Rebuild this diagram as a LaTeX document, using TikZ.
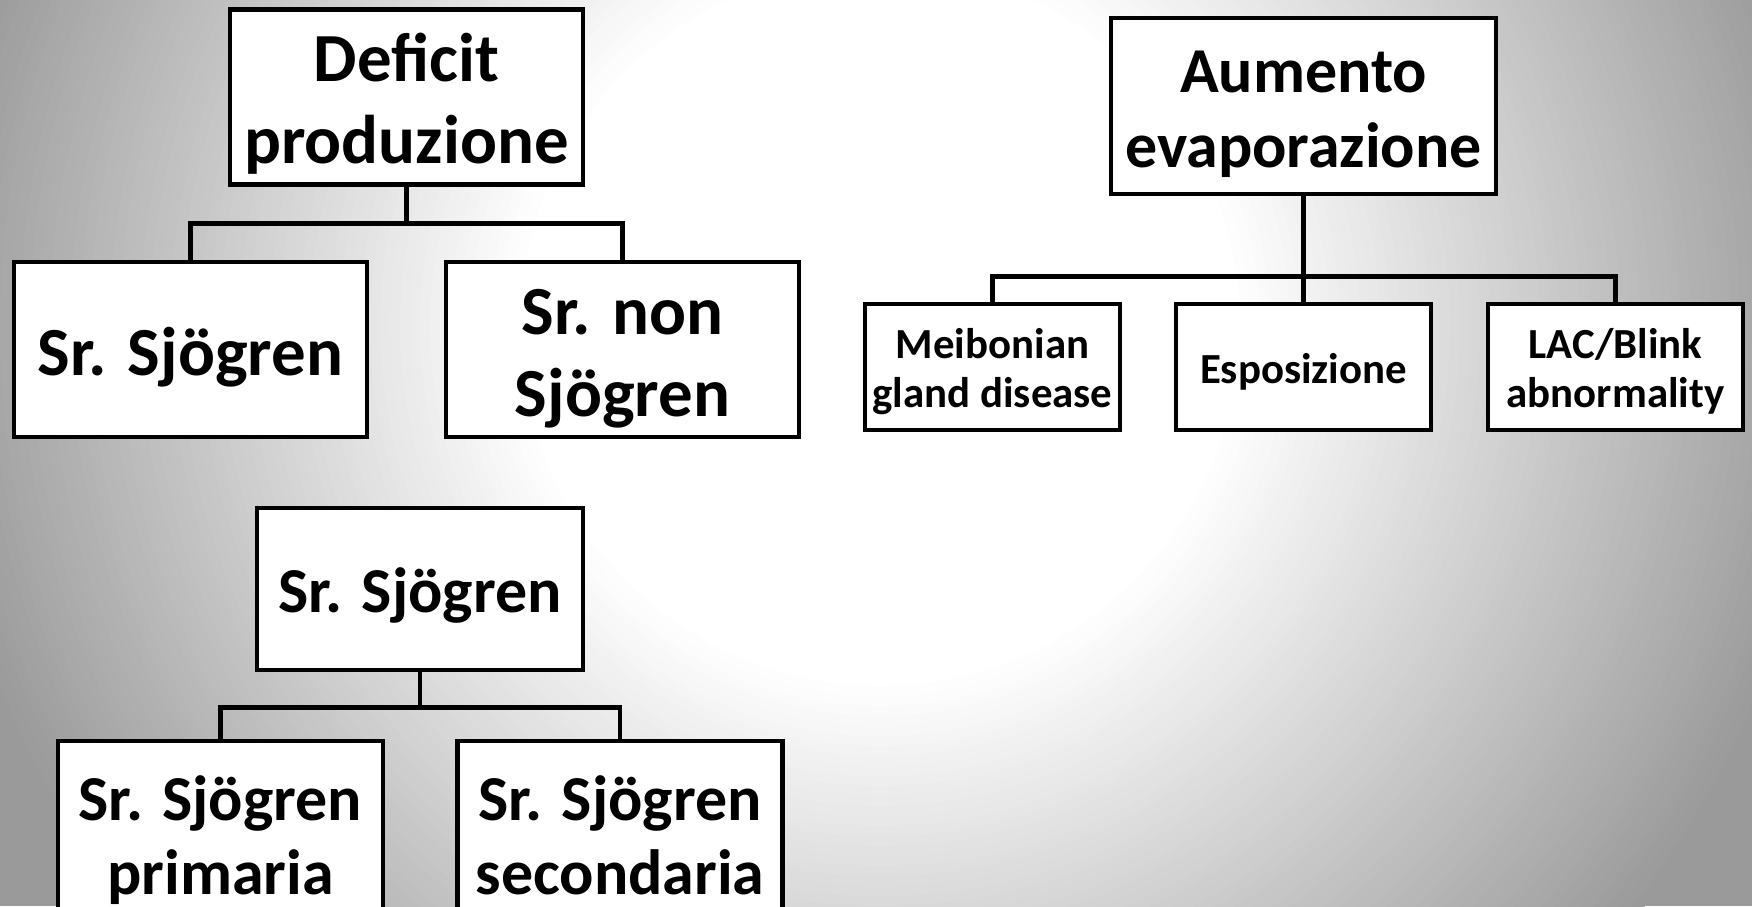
\documentclass[tikz,border=0pt]{standalone}
\usepackage{fontspec}
\setmainfont{Carlito}
\usepackage{tikz}
\usepackage{xcolor}
\usetikzlibrary{positioning,calc}
\definecolor{slidegray}{HTML}{9A9A9A}
\definecolor{ink}{HTML}{000000}
% fixed line top and bottom, so that every box text sits alike
\newcommand{\boxtop}{\rule{0pt}{1.0em}}
\newcommand{\boxbot}{\rule[-0.25em]{0pt}{0.25em}}
\tikzset{
  box/.style={draw=ink,fill=white,line width=1.3pt,align=center,inner sep=0pt},
  bigtext/.style={font=\bfseries\fontsize{19.6}{23.3}\selectfont},
  midtext/.style={font=\bfseries\fontsize{18.2}{21.2}\selectfont},
  smalltext/.style={font=\bfseries\fontsize{12.2}{14.1}\selectfont},
  bigbox/.style={box,bigtext,minimum width=3.53cm,minimum height=1.75cm},
  smallbox/.style={box,smalltext,minimum width=2.55cm,minimum height=1.26cm},
  cutbox/.style={box,midtext,minimum width=3.25cm,minimum height=1.85cm},
  link/.style={draw=ink,line width=1.3pt}
}
\begin{document}
\begin{tikzpicture}
        \path[use as bounding box] (0,0) rectangle (17.52,9.06);
        % slide background, light in the middle
        \begin{scope}
          \clip (0,0) rectangle (17.52,9.06);
          \fill[slidegray] (0,0) rectangle (17.52,9.06);
          \foreach \i in {0,...,60}{
            \pgfmathsetmacro\pct{100-\i*100/60}
            \fill[slidegray!\pct!white] (8.8,5.8) circle ({9.6-\i*0.1});
          }
        \end{scope}
        % deficit produzione
        \node[bigbox] (deficit) at (4.065,8.09) {\boxtop Deficit\\produzione\boxbot};
        \node[bigbox] (sjogren) at (1.905,5.565) {\boxtop Sr. Sjögren\boxbot};
        \node[bigbox] (nonsjogren) at (6.225,5.565) {\boxtop Sr. non\\Sjögren\boxbot};
        \draw[link] (deficit.south) -- ++(0,-0.37) -| (sjogren.north);
        \draw[link] (deficit.south) -- ++(0,-0.37) -| (nonsjogren.north);
        % aumento evaporazione
        \node[box,midtext,minimum width=3.85cm,minimum height=1.76cm] (aumento)
          at (13.035,8.00) {\boxtop Aumento\\evaporazione\boxbot};
        \node[smallbox] (meibonian) at (9.925,5.39) {\boxtop Meibonian\\gland disease\boxbot};
        \node[smallbox] (esposizione) at (13.035,5.39) {\boxtop Esposizione\boxbot};
        \node[smallbox] (blink) at (16.155,5.39) {\boxtop LAC/Blink\\abnormality\boxbot};
        \draw[link] (aumento.south) -- ++(0,-0.80) -| (meibonian.north);
        \draw[link] (aumento.south) -- (esposizione.north);
        \draw[link] (aumento.south) -- ++(0,-0.80) -| (blink.north);
        % sjogren primaria / secondaria (cut by the slide edge)
        \node[box,midtext,minimum width=3.26cm,minimum height=1.62cm] (sjogrentop)
          at (4.20,3.17) {\boxtop Sr. Sjögren\boxbot};
        \node[cutbox] (primaria) at (2.205,0.725) {\boxtop Sr. Sjögren\\primaria\boxbot};
        \node[cutbox] (secondaria) at (6.20,0.725) {\boxtop Sr. Sjögren\\secondaria\boxbot};
        \draw[link] (sjogrentop.south) -- ++(0,-0.35) -| (primaria.north);
        \draw[link] (sjogrentop.south) -- ++(0,-0.35) -| (secondaria.north);
\end{tikzpicture}
\end{document}
